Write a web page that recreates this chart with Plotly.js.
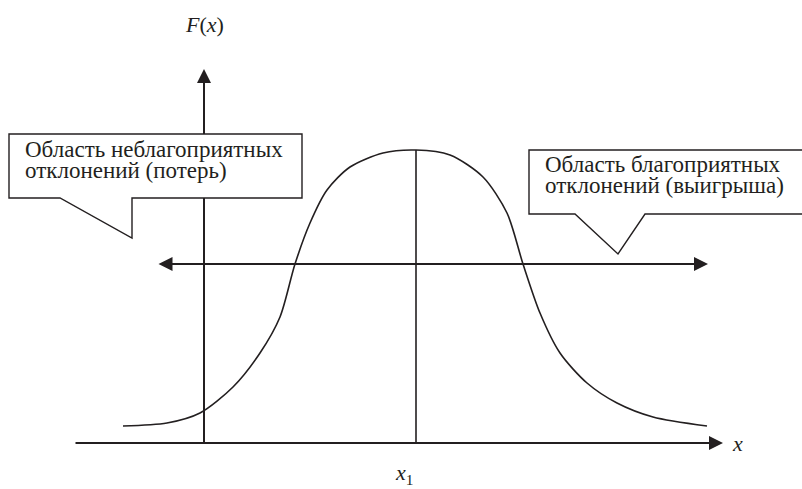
<!DOCTYPE html>
<html>
<head>
<meta charset="utf-8">
<script src="https://cdn.plot.ly/plotly-3.0.1.min.js"></script>
<style>
  html, body { margin: 0; padding: 0; background: #fff; }
  #chart { width: 802px; height: 489px; }
</style>
</head>
<body>
<div id="chart"></div>
<script>
// bell-shaped curve, origin at the crossing of the two axes
var curveX = [-81, -37, -4, 29, 56, 76, 91, 106, 123, 146, 179, 212,
              246, 279, 303, 319, 336, 356, 383, 413, 449, 503];
var curveY = [17, 20, 30, 56, 90, 126, 179, 220, 253, 276, 290, 293,
              288, 266, 230, 179, 130, 90, 60, 40, 26, 17];

var x1Value = 212;        // position of x1 on the x axis
var x1Peak = 293;         // curve height at x1
var arrowLevel = 179;     // height of the two-sided arrow

var lossLines = ['Область неблагоприятных', 'отклонений (потерь)'];
var gainLines = ['Область благоприятных', 'отклонений (выигрыша)'];

var ink = '#231f20';
var serif = 'Liberation Serif';

var curve = {
    x: curveX,
    y: curveY,
    type: 'scatter',
    mode: 'lines',
    line: { color: ink, width: 1.6, shape: 'spline', smoothing: 0.8 },
    hoverinfo: 'skip'
};

function textLine(txt, x, y) {
    return { x: x, y: y, text: txt, showarrow: false, xanchor: 'left', yanchor: 'middle',
             borderpad: 0, font: { family: serif, size: 23, color: ink } };
}

var layout = {
    width: 802,
    height: 489,
    margin: { l: 0, r: 0, t: 0, b: 0, pad: 0 },
    paper_bgcolor: '#ffffff',
    plot_bgcolor: '#ffffff',
    showlegend: false,
    font: { family: serif, color: ink },
    xaxis: { range: [-204, 598], visible: false, fixedrange: true },
    yaxis: { range: [-46, 443], visible: false, fixedrange: true },
    shapes: [
        // y axis line (boxes are drawn over it)
        { type: 'line', x0: 0, x1: 0, y0: 0, y1: 364, layer: 'below',
          line: { color: ink, width: 2 } },
        // vertical line at x1
        { type: 'line', x0: x1Value, x1: x1Value, y0: 0, y1: x1Peak, layer: 'below',
          line: { color: ink, width: 1.6 } },
        // callout: losses
        { type: 'path', layer: 'above', fillcolor: '#ffffff',
          line: { color: ink, width: 1.4 },
          path: 'M-195,309 L98,309 L98,245 L-72,245 L-72,205 L-144,245 L-195,245 Z' },
        // callout: gains
        { type: 'path', layer: 'above', fillcolor: '#ffffff',
          line: { color: ink, width: 1.4 },
          path: 'M325,293 L604,293 L604,229 L441,229 L414,189 L371,229 L325,229 Z' }
    ],
    annotations: [
        // y axis arrow tip
        { x: 0, y: 374, ax: 0, ay: 350, axref: 'x', ayref: 'y', text: '',
          showarrow: true, arrowhead: 2, arrowsize: 1.4, arrowwidth: 2, arrowcolor: ink },
        // x axis
        { x: 519, y: 0, ax: -130, ay: 0, axref: 'x', ayref: 'y', text: '',
          showarrow: true, arrowhead: 2, arrowsize: 1.4, arrowwidth: 2, arrowcolor: ink },
        // two-sided arrow
        { x: 504, y: arrowLevel, ax: -47, ay: arrowLevel, axref: 'x', ayref: 'y', text: '',
          showarrow: true, arrowside: 'end+start', arrowhead: 2, startarrowhead: 2,
          arrowsize: 1.4, startarrowsize: 1.4, arrowwidth: 2, arrowcolor: ink },
        // labels
        { x: 0.5, y: 419, text: '<i>F</i>(<i>x</i>)', showarrow: false,
          font: { family: serif, size: 22, color: ink } },
        { x: 526, y: 0, text: '<i>x</i>', showarrow: false, xanchor: 'left',
          font: { family: serif, size: 22, color: ink } },
        { x: x1Value - 12, y: -31, text: '<i>x</i><sub>1</sub>', showarrow: false,
          font: { family: serif, size: 22, color: ink } },
        textLine(lossLines[0], -180, 293.75),
        textLine(lossLines[1], -180, 272.75),
        textLine(gainLines[0], 340, 278.75),
        textLine(gainLines[1], 340, 257.25)
    ]
};

Plotly.newPlot('chart', [curve], layout, { staticPlot: true, displayModeBar: false });
</script>
</body>
</html>
